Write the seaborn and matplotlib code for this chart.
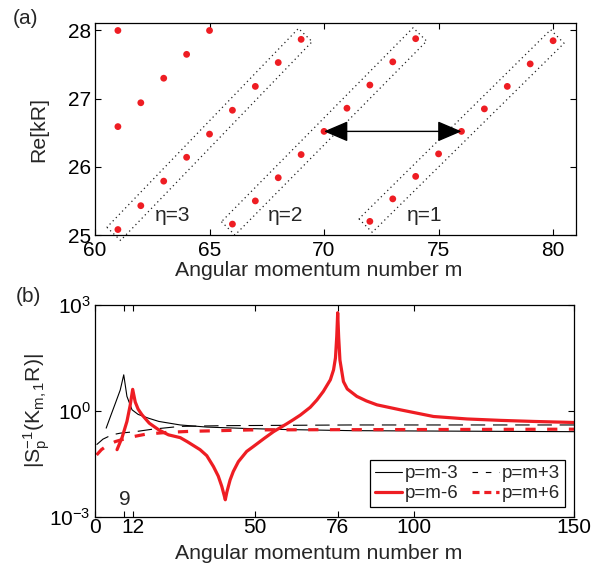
import numpy as np
import pandas as pd
import matplotlib
matplotlib.use("Agg")
import matplotlib.pyplot as plt
import seaborn as sns
from matplotlib.lines import Line2D
from matplotlib.ticker import FixedLocator, FixedFormatter, NullLocator

# ---------------- data: panel (a) ----------------
left_m = [61, 61, 62, 63, 64, 65]
left_re = [28.0, 26.59, 26.94, 27.30, 27.65, 28.0]
eta3_m = [61, 62, 63, 64, 65, 66, 67, 68, 69]
eta3_re = [25.08, 25.43, 25.79, 26.14, 26.48, 26.83, 27.18, 27.53, 27.87]
eta2_m = [66, 67, 68, 69, 70, 71, 72, 73, 74]
eta2_re = [25.16, 25.50, 25.84, 26.18, 26.52, 26.86, 27.20, 27.54, 27.88]
eta1_m = [72, 73, 74, 75, 76, 77, 78, 79, 80]
eta1_re = [25.20, 25.53, 25.86, 26.19, 26.52, 26.85, 27.18, 27.51, 27.85]

# ---------------- data: panel (b) ----------------
pm3_m = [3.5, 5.0, 6.4, 7.9, 9.0, 10.0, 11.6, 13.5, 16.8, 20, 26.7, 35, 47.5, 60, 80, 100, 125, 150]
pm3_v = [0.324, 0.759, 1.66, 3.89, 10.5, 2.57, 1.07, 0.794, 0.617, 0.501, 0.398, 0.347, 0.316,
         0.295, 0.275, 0.269, 0.263, 0.257]
pp3_m = [0.5, 2.5, 5.3, 8.0, 12.6, 18, 26.7, 40, 60, 80, 100, 125, 150]
pp3_v = [0.110, 0.158, 0.209, 0.234, 0.257, 0.302, 0.363, 0.380, 0.389, 0.398, 0.398, 0.398, 0.398]
pm6_m = [6.9, 8.5, 10.0, 11.0, 11.8, 12.6, 13.5, 14.7, 17, 20, 23, 26.7, 29, 32.9, 35, 37.1, 38.6,
         39.7, 40.4, 40.8, 41.3, 42.3, 43.3, 44.9, 47.5, 49.6, 53, 55.9, 60, 62.1, 64.3, 67.4, 69.5,
         71.5, 73.7, 74.7, 75.3, 75.7, 76.0, 76.3, 76.7, 77.8, 79, 82, 85, 88.3, 95.6, 106, 116.5,
         127, 137.4, 150]
pm6_v = [0.0794, 0.178, 0.501, 1.41, 4.07, 1.78, 1.12, 0.776, 0.447, 0.288, 0.209, 0.174, 0.132,
         0.0794, 0.0537, 0.0263, 0.01413, 0.00724, 0.00417, 0.00302, 0.00501, 0.01096, 0.01905,
         0.0363, 0.0708, 0.0977, 0.166, 0.257, 0.427, 0.562, 0.759, 1.26, 2.04, 3.55, 7.59, 14.5,
         31.6, 126, 603, 126, 27.5, 6.76, 4.17, 2.57, 1.91, 1.48, 1.07, 0.692, 0.589, 0.537, 0.501,
         0.468]
pp6_m = [0.5, 2.0, 4.0, 6.4, 9, 12, 16, 22.5, 30, 48.6, 70, 100, 150]
pp6_v = [0.0562, 0.0794, 0.107, 0.135, 0.158, 0.186, 0.219, 0.245, 0.263, 0.288, 0.292, 0.295, 0.302]

legend_labels = ["p=m-3", "p=m+3", "p=m-6", "p=m+6"]
xticks_b = [0, 9, 12, 50, 76, 100, 150]
xticklabels_b = ["0", "", "12", "50", "76", "100", "150"]

RED = "#ee1d23"

sns.set_style("ticks")
plt.rcParams["font.family"] = ["Liberation Sans", "DejaVu Sans"]
plt.rcParams["mathtext.fontset"] = "custom"
plt.rcParams["mathtext.rm"] = "Liberation Sans"
plt.rcParams["mathtext.it"] = "Liberation Sans:italic"
plt.rcParams["mathtext.default"] = "regular"

DPI = 100
fig = plt.figure(figsize=(6.02, 5.71), dpi=DPI)
W, H = 602, 571
ax1 = fig.add_axes([95 / W, 1 - 235 / H, (576 - 95) / W, (235 - 23) / H])
ax2 = fig.add_axes([95 / W, 1 - 516.7 / H, (574 - 95) / W, (516.7 - 305) / H])

for ax in (ax1, ax2):
    for s in ax.spines.values():
        s.set_visible(True)
        s.set_color("k")
        s.set_linewidth(0.9)
    ax.tick_params(direction="in", top=True, right=True, length=4, width=0.8,
                   labelsize=15, colors="k", pad=3)
ax1.tick_params(axis="x", pad=4)
ax2.tick_params(axis="x", pad=1)

# ---------------- panel (a) ----------------
df_a = pd.DataFrame({
    "m": left_m + eta3_m + eta2_m + eta1_m,
    "Re": left_re + eta3_re + eta2_re + eta1_re,
})
sns.scatterplot(data=df_a, x="m", y="Re", color=RED, s=24, edgecolor="none",
                ax=ax1, legend=False, zorder=3)
ax1.set_xlim(60, 81)
ax1.set_ylim(25, 28.11)
ax1.set_xticks([60, 65, 70, 75, 80])
ax1.set_yticks([25, 26, 27, 28])
ax1.set_xlabel("Angular momentum number m", fontsize=15.3)
ax1.set_ylabel("Re[kR]", fontsize=15.3)
ax1.xaxis.set_label_coords(0.466, -0.124)
ax1.yaxis.set_label_coords(-0.098, 0.5)


def dotted_box(ax, ms, res, ext=6.0, half=9.5):
    p1 = ax.transData.transform((ms[0], res[0]))
    p2 = ax.transData.transform((ms[-1], res[-1]))
    u = (p2 - p1) / np.hypot(*(p2 - p1))
    n = np.array([-u[1], u[0]])
    corners = np.array([p1 - ext * u + half * n, p1 - ext * u - half * n,
                        p2 + ext * u - half * n, p2 + ext * u + half * n,
                        p1 - ext * u + half * n])
    d = ax.transData.inverted().transform(corners)
    ax.plot(d[:, 0], d[:, 1], color="#222222", lw=0.9, ls=(0, (1, 2.6)), clip_on=False)


for ms, rs in ((eta3_m, eta3_re), (eta2_m, eta2_re), (eta1_m, eta1_re)):
    dotted_box(ax1, ms, rs)

ax1.annotate("", xy=(eta1_m[4], eta1_re[4]), xytext=(eta2_m[4], eta2_re[4]),
             arrowprops=dict(arrowstyle="<|-|>,head_length=0.75,head_width=0.32",
                             mutation_scale=20, color="k", lw=1.0,
                             shrinkA=0, shrinkB=0), zorder=4)

for txt, xm in (("η=3", 63.4), ("η=2", 68.3), ("η=1", 74.4)):
    ax1.text(xm, 25.28, txt, fontsize=15, ha="center", va="center")

# ---------------- panel (b) ----------------
sns.lineplot(x=pm3_m, y=pm3_v, ax=ax2, color="k", lw=0.8, estimator=None, sort=False)
sns.lineplot(x=pp3_m, y=pp3_v, ax=ax2, color="k", lw=0.8, ls=(0, (13, 7)), estimator=None, sort=False)
sns.lineplot(x=pm6_m, y=pm6_v, ax=ax2, color=RED, lw=2.3, estimator=None, sort=False)
sns.lineplot(x=pp6_m, y=pp6_v, ax=ax2, color=RED, lw=2.3, ls=(0, (3.2, 3.6)), estimator=None, sort=False)

ax2.set_yscale("log")
ax2.set_xlim(0, 150)
ax2.set_ylim(1e-3, 1e3)
ax2.yaxis.set_major_locator(FixedLocator([1e-3, 1e0, 1e3]))
ax2.yaxis.set_major_formatter(FixedFormatter([r"$10^{-3}$", r"$10^{0}$", r"$10^{3}$"]))
ax2.yaxis.set_minor_locator(NullLocator())
ax2.xaxis.set_major_locator(FixedLocator(xticks_b))
ax2.xaxis.set_major_formatter(FixedFormatter(xticklabels_b))
ax2.set_xlabel("Angular momentum number m", fontsize=15.3)
ax2.set_ylabel(r"$|S_p^{-1}(K_{m,1}R)|$", fontsize=15.3)
ax2.xaxis.set_label_coords(0.468, -0.129)
ax2.yaxis.set_label_coords(-0.09, 0.5)
ax2.text(9.4, 10 ** -2.52, "9", fontsize=15, ha="center", va="center")

handles = [Line2D([], [], color="k", lw=0.8),
           Line2D([], [], color="k", lw=0.8, ls=(0, (5, 7))),
           Line2D([], [], color=RED, lw=2.3),
           Line2D([], [], color=RED, lw=2.3, ls=(0, (2.2, 1.5)))]
order = [0, 2, 1, 3]
leg = ax2.legend([handles[i] for i in order], [legend_labels[i] for i in order],
                 ncol=2, loc="lower right", bbox_to_anchor=(0.981, 0.047),
                 borderaxespad=0, frameon=True, fancybox=False, framealpha=1,
                 edgecolor="k", fontsize=13.5, handlelength=1.45, handletextpad=0.15,
                 columnspacing=0.7, borderpad=0.25, labelspacing=0.15)
leg.get_frame().set_linewidth(0.9)

fig.text(25 / W, 1 - 19 / H, "(a)", fontsize=15, ha="center", va="center")
fig.text(28 / W, 1 - 297 / H, "(b)", fontsize=15, ha="center", va="center")

fig.savefig("out.png", dpi=DPI)
